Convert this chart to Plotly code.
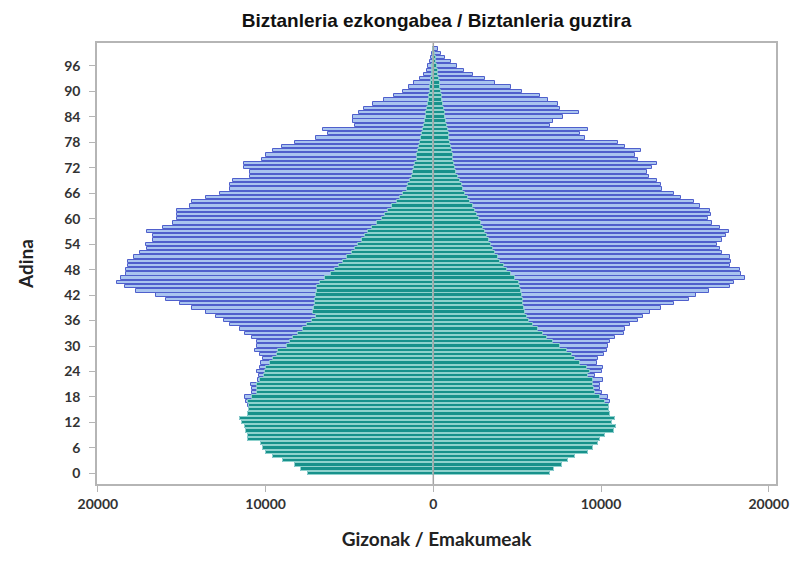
import plotly.graph_objects as go

ages = list(range(0, 101))

# gizonak (men) - total population per age
men_total = [7460, 7860, 8260, 8960, 9550, 9950, 10150, 10250, 11040, 11040,
             11140, 11240, 11380, 11540, 11040, 11000, 11040, 11140, 11240, 10840,
             10790, 10880, 10450, 10400, 10510, 10350, 10250, 10150, 10350, 10640,
             10540, 10540, 10840, 11240, 11540, 12140, 12500, 12930, 13570, 14370,
             15120, 15920, 16560, 17710, 18410, 18840, 18600, 18350, 18310, 18210,
             18210, 17870, 17510, 17070, 17150, 16720, 16720, 17070, 16120, 15520,
             15280, 15280, 15280, 14530, 14370, 13530, 12740, 12140, 12100, 11920,
             10940, 10940, 11280, 11280, 10210, 9950, 9550, 9050, 8260, 6970,
             6270, 6570, 4670, 4810, 4810, 4440, 4120, 3580, 2940, 2330,
             1830, 1450, 1150, 800, 540, 400, 300, 200, 140, 100,
             40]

# gizonak (men) - unmarried per age
men_single = [7460, 7860, 8260, 8960, 9550, 9950, 10150, 10250, 11040, 11040,
              11140, 11240, 11380, 11540, 11040, 11000, 11000, 11040, 10840, 10540,
              10540, 10490, 10350, 10100, 10050, 9950, 9750, 9550, 9350, 9250,
              8750, 8560, 8360, 8060, 7760, 7560, 7260, 7000, 7160, 7120,
              7080, 7040, 7000, 6960, 6920, 6770, 6470, 6130, 5870, 5610,
              5370, 5130, 4870, 4680, 4480, 4280, 4080, 3880, 3680, 3380,
              3080, 2880, 2690, 2480, 2190, 1990, 1790, 1590, 1490, 1390,
              1300, 1220, 1150, 1080, 1000, 950, 900, 850, 800, 750,
              700, 640, 580, 520, 460, 410, 360, 320, 280, 240,
              210, 180, 150, 120, 100, 80, 60, 40, 30, 20,
              10]

# emakumeak (women) - total population per age
women_total = [6930, 7210, 7660, 8060, 8460, 9250, 9550, 9850, 9950, 10210,
               10790, 10910, 10650, 10850, 10550, 10500, 10500, 10510, 10410, 10050,
               9950, 9950, 10090, 9650, 10050, 10090, 9750, 9850, 10190, 10350,
               10390, 10550, 10850, 11390, 11450, 11700, 12200, 12500, 12940, 13580,
               14330, 15220, 15660, 16420, 17670, 17910, 18610, 18350, 18270, 17720,
               17770, 17670, 17220, 17080, 16920, 17220, 17470, 17650, 17120, 16620,
               16380, 16580, 16480, 15920, 15520, 14770, 14330, 13630, 13580, 13340,
               12840, 12740, 13040, 13340, 12180, 12040, 12380, 11450, 10990, 9060,
               8760, 9250, 6970, 7160, 7760, 8660, 7560, 7430, 6810, 6370,
               5310, 4620, 3680, 3090, 2390, 1850, 1400, 1040, 700, 440,
               300]

# emakumeak (women) - unmarried per age
women_single = [6930, 7210, 7660, 8060, 8460, 9250, 9550, 9850, 9950, 10210,
                10790, 10910, 10650, 10850, 10550, 10500, 10450, 10250, 9950, 9650,
                9600, 9550, 9510, 9210, 9350, 9160, 8720, 8460, 8260, 7960,
                7560, 7130, 6770, 6530, 6270, 5970, 5700, 5580, 5470, 5420,
                5370, 5320, 5280, 5230, 5180, 5080, 4880, 4650, 4420, 4200,
                3980, 3830, 3680, 3550, 3430, 3310, 3190, 3090, 2990, 2870,
                2750, 2620, 2490, 2340, 2190, 2040, 1890, 1790, 1690, 1600,
                1450, 1380, 1300, 1250, 1200, 1150, 1100, 1050, 1000, 960,
                920, 870, 820, 770, 720, 670, 620, 580, 540, 500,
                460, 420, 380, 340, 300, 260, 220, 180, 140, 100,
                60]

age_ticks = list(range(0, 97, 6))
x_ticks = [-20000, -10000, 0, 10000, 20000]
x_labels = ['20000', '10000', '0', '10000', '20000']

TOTAL_FILL = '#a9c4ef'
TOTAL_LINE = '#4f5fcc'
SINGLE_FILL = '#17918b'
SINGLE_LINE = '#8fd2cd'

fig = go.Figure()

fig.add_trace(go.Bar(y=ages, x=[-v for v in men_total], orientation='h', width=0.78,
                     marker=dict(color=TOTAL_FILL, line=dict(color=TOTAL_LINE, width=1)),
                     name='Gizonak guztira'))
fig.add_trace(go.Bar(y=ages, x=women_total, orientation='h', width=0.78,
                     marker=dict(color=TOTAL_FILL, line=dict(color=TOTAL_LINE, width=1)),
                     name='Emakumeak guztira'))
fig.add_trace(go.Bar(y=ages, x=[-v for v in men_single], orientation='h', width=0.78,
                     marker=dict(color=SINGLE_FILL, line=dict(color=SINGLE_LINE, width=1)),
                     name='Gizonak ezkongabeak'))
fig.add_trace(go.Bar(y=ages, x=women_single, orientation='h', width=0.78,
                     marker=dict(color=SINGLE_FILL, line=dict(color=SINGLE_LINE, width=1)),
                     name='Emakumeak ezkongabeak'))

# center line over the bars
fig.add_shape(type='line', x0=0, x1=0, xref='x', y0=0, y1=1, yref='paper',
              line=dict(color='#a3a3a3', width=1.5), layer='above')

# the page adds an 8px body margin, so the margins here are shifted by 8px
fig.update_layout(
    width=800, height=580,
    barmode='overlay', bargap=0,
    showlegend=False,
    plot_bgcolor='white', paper_bgcolor='white',
    margin=dict(l=89, r=32, t=35, b=104, autoexpand=False),
    title=dict(text='Biztanleria ezkongabea / Biztanleria guztira',
               xref='paper', x=0.5, xanchor='center',
               yref='container', y=0.979, yanchor='middle',
               font=dict(family='Liberation Sans, Arial, sans-serif',
                         size=19, color='#111111', weight='bold')),
    font=dict(family='Lato, Open Sans, sans-serif', color='#333333'),
)

fig.update_xaxes(range=[-20054, 20435], tickvals=x_ticks, ticktext=x_labels,
                 automargin=False,
                 showgrid=False, zeroline=False,
                 showline=True, linecolor='#b5b5b5', linewidth=1.5, mirror=True,
                 ticks='outside', ticklen=6, tickcolor='#b5b5b5',
                 tickfont=dict(size=14, weight='bold', color='#333333'),
                 title=dict(text='Gizonak / Emakumeak', standoff=22,
                            font=dict(size=19, weight='bold', color='#222222')))

fig.update_yaxes(range=[-2.5, 101.4], tickvals=age_ticks,
                 automargin=False,
                 showgrid=False, zeroline=False,
                 showline=True, linecolor='#b5b5b5', linewidth=1.5, mirror=True,
                 ticks='outside', ticklen=6, tickcolor='#b5b5b5',
                 ticklabelstandoff=6,
                 tickfont=dict(size=14, weight='bold', color='#333333'),
                 title=dict(text='Adina', standoff=26,
                            font=dict(size=19, weight='bold', color='#222222')))

fig.write_html("out.html")
